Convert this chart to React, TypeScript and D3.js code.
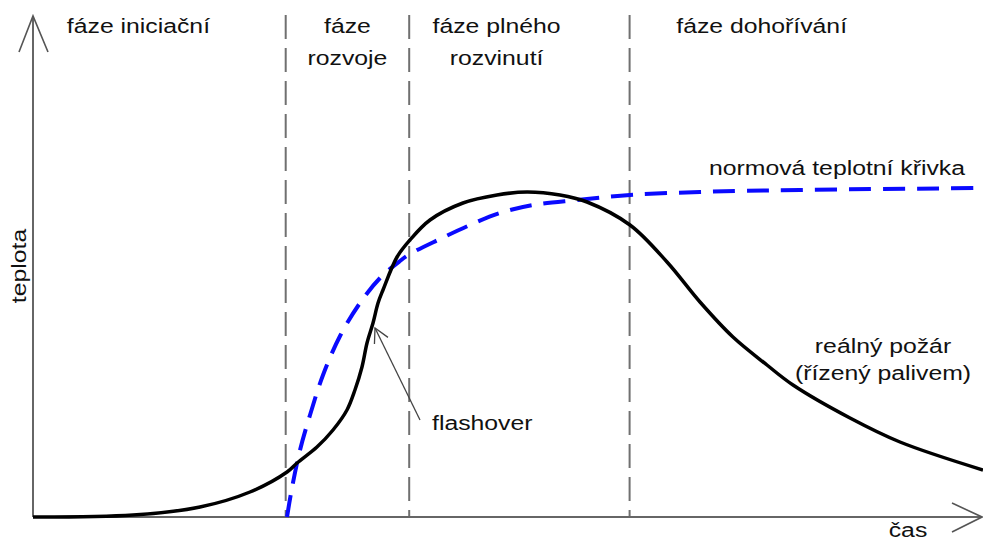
import React, { useEffect, useRef } from 'react';
import * as d3 from 'd3';

// real fire curve (time, temperature) in arbitrary units
const realTime = [0, 10.53, 17.58, 22.84, 26.74, 27.79, 29.89, 31.58, 33.05, 33.89, 34.63, 35.16, 35.79, 36.32, 36.84, 38.32, 39.68, 41.79, 45.26, 48.84, 52.0, 55.47, 58.32, 62.84, 66.74, 70.21, 73.68, 77.26, 80.0, 86.0, 91.26, 100];
const realTemp = [0, 0.4, 2.0, 5.0, 9.0, 10.8, 14.0, 17.4, 21.4, 25.4, 30.0, 34.8, 38.8, 42.8, 45.4, 52.0, 55.4, 59.4, 62.8, 64.4, 65.0, 64.4, 63.0, 58.4, 51.0, 43.0, 36.0, 30.4, 26.4, 19.8, 15.0, 9.4];

// standard temperature curve
const normTime = [26.74, 27.26, 28.11, 29.16, 30.53, 32.32, 34.42, 36.53, 38.63, 39.68, 42.84, 46.0, 49.16, 52.63, 57.26, 62.84, 70.21, 80.74, 100];
const normTemp = [0, 5.8, 13.4, 20.4, 28.4, 36.2, 42.8, 47.8, 51.2, 52.6, 55.6, 58.4, 60.8, 62.4, 63.4, 64.4, 65.0, 65.4, 65.8];

// phase boundaries and names
const phaseBounds = [26.6, 39.6, 62.8];
const phaseNames = [['fáze iniciační'], ['fáze', 'rozvoje'], ['fáze plného', 'rozvinutí'], ['fáze dohořívání']];
const phaseCenters = [11.1, 33.1, 48.8, 76.7];

const flashoverAt = [36.0, 37.8];

const App = () => {
    const ref = useRef(null);

    useEffect(() => {
        const width = 983;
        const height = 543;
        const font = '"Liberation Sans", Arial, sans-serif';
        const stretch = 1.18;

        const root = d3.select(ref.current);
        root.selectAll('*').remove();
        const svg = root.append('svg')
            .attr('width', width)
            .attr('height', height)
            .style('position', 'absolute')
            .style('left', 0)
            .style('top', 0)
            .style('background', '#fff');

        const x = d3.scaleLinear().domain([0, 100]).range([33, 983]);
        const y = d3.scaleLinear().domain([0, 100]).range([517, 17]);

        // phase dividers
        svg.selectAll('.phase')
            .data(phaseBounds)
            .enter().append('line')
            .attr('x1', d => x(d)).attr('x2', d => x(d))
            .attr('y1', 15).attr('y2', y(0))
            .attr('stroke', '#707070')
            .attr('stroke-width', 2)
            .attr('stroke-dasharray', '24,9');

        // axes
        svg.append('line')
            .attr('x1', x(0)).attr('x2', x(0))
            .attr('y1', y(0)).attr('y2', 16)
            .attr('stroke', '#666').attr('stroke-width', 2);
        svg.append('line')
            .attr('x1', x(0)).attr('x2', 982)
            .attr('y1', y(0)).attr('y2', y(0))
            .attr('stroke', '#666').attr('stroke-width', 2);
        // open arrow heads
        svg.append('polyline')
            .attr('points', `${x(0) - 14},52 ${x(0)},16 ${x(0) + 15},52`)
            .attr('fill', 'none').attr('stroke', '#555').attr('stroke-width', 1.6);
        svg.append('polyline')
            .attr('points', `952,503 982,${y(0)} 952,532`)
            .attr('fill', 'none').attr('stroke', '#555').attr('stroke-width', 1.6);

        const line = d3.line()
            .x(d => x(d[0]))
            .y(d => y(d[1]))
            .curve(d3.curveCatmullRom.alpha(0.5));

        // standard curve (dashed blue)
        svg.append('path')
            .datum(normTime.map((t, i) => [t, normTemp[i]]))
            .attr('d', line)
            .attr('fill', 'none')
            .attr('stroke', '#0a0aff')
            .attr('stroke-width', 4)
            .attr('stroke-dasharray', '22,12');

        // real fire (black)
        svg.append('path')
            .datum(realTime.map((t, i) => [t, realTemp[i]]))
            .attr('d', line)
            .attr('fill', 'none')
            .attr('stroke', '#000')
            .attr('stroke-width', 3.5);

        // text helper
        const label = (txt, px, py, anchor = 'middle', rot = 0) => {
            svg.append('text')
                .attr('transform', `translate(${px},${py}) rotate(${rot}) scale(${stretch},1)`)
                .attr('text-anchor', anchor)
                .attr('font-family', font)
                .attr('font-size', 21)
                .attr('fill', '#111')
                .text(txt);
        };

        phaseNames.forEach((lines, i) => {
            lines.forEach((t, j) => label(t, x(phaseCenters[i]), 33 + j * 32));
        });

        label('normová teplotní křivka', 837, 175);
        label('reálný požár', 883, 353);
        label('(řízený palivem)', 883, 380);
        label('flashover', 432, 430, 'start');
        label('teplota', 26, 266, 'middle', -90);
        label('čas', 908, 537);

        // flashover pointer
        const tipX = x(flashoverAt[0]);
        const tipY = y(flashoverAt[1]);
        const tailX = 420;
        const tailY = 420;
        const ang = Math.atan2(tailY - tipY, tailX - tipX);
        const len = 16;
        const spread = 0.49;
        svg.append('line')
            .attr('x1', tailX).attr('y1', tailY)
            .attr('x2', tipX).attr('y2', tipY)
            .attr('stroke', '#444').attr('stroke-width', 1.3);
        svg.append('polyline')
            .attr('points', [
                [tipX + len * Math.cos(ang - spread), tipY + len * Math.sin(ang - spread)],
                [tipX, tipY],
                [tipX + len * Math.cos(ang + spread), tipY + len * Math.sin(ang + spread)],
            ].map(p => p.join(',')).join(' '))
            .attr('fill', 'none').attr('stroke', '#444').attr('stroke-width', 1.3);
    }, []);

    return <div ref={ref} className='fire-chart'></div>;
};

export default App;
